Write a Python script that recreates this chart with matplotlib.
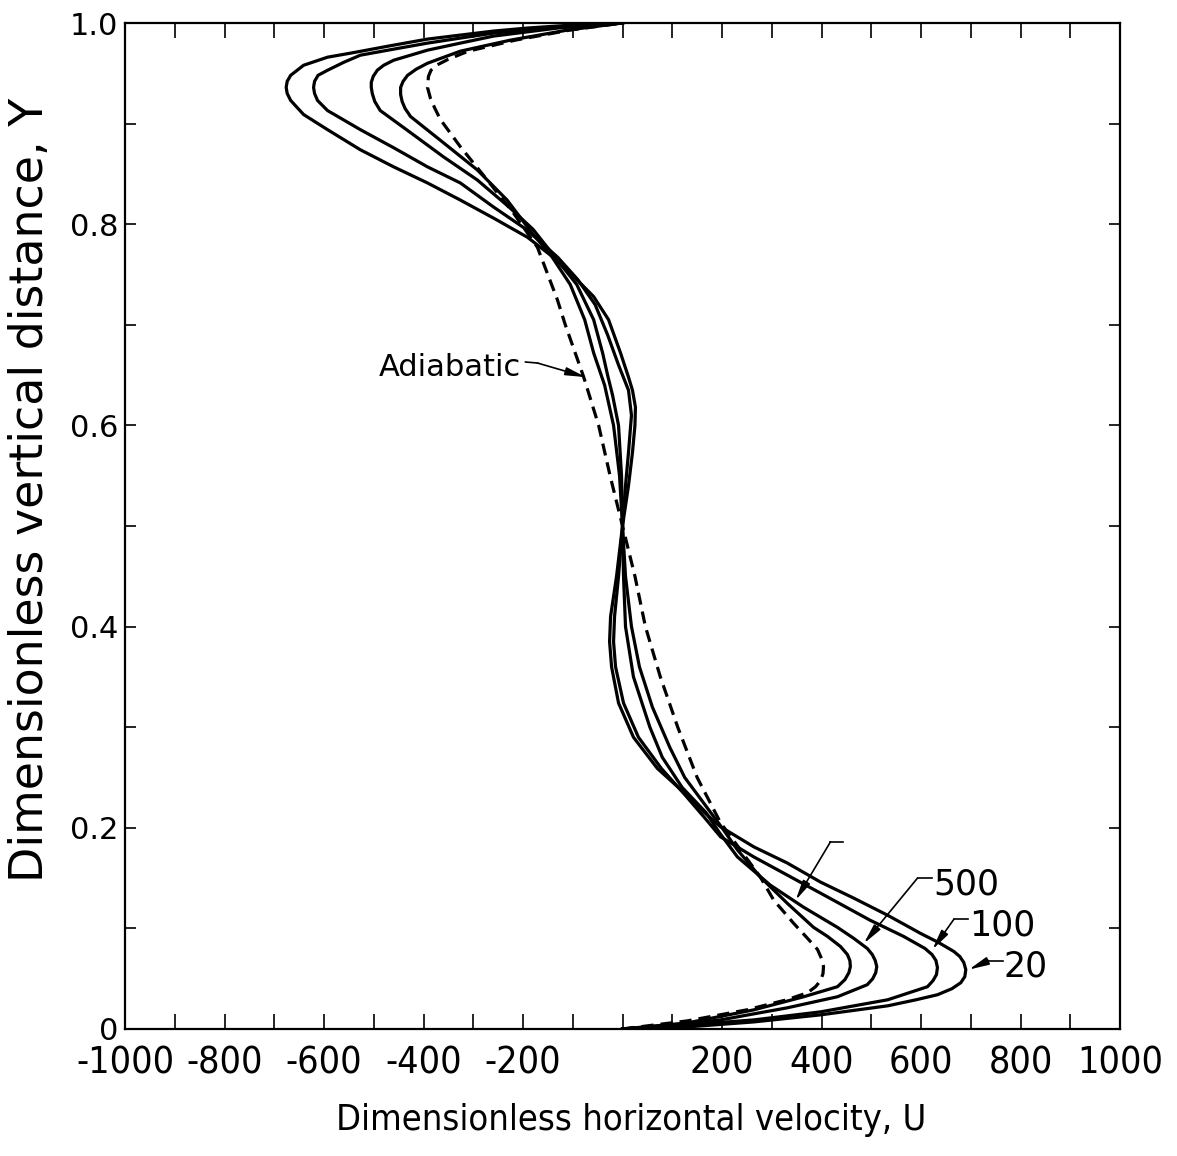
import numpy as np
import matplotlib.pyplot as plt

# Velocity profiles, Y (height) and U (horizontal velocity)
# curve labelled 20
y_20 = [0.0, 0.002, 0.007, 0.014, 0.023, 0.029, 0.034, 0.040, 0.046, 0.052, 0.059,
        0.066, 0.072, 0.077, 0.086, 0.095, 0.113, 0.130, 0.146, 0.165, 0.181, 0.201,
        0.215, 0.233, 0.259, 0.29, 0.324, 0.36, 0.385, 0.41, 0.45, 0.5, 0.54, 0.573,
        0.60, 0.618, 0.635, 0.648, 0.672, 0.705, 0.728, 0.741, 0.767, 0.787, 0.806,
        0.824, 0.841, 0.857, 0.874, 0.894, 0.909, 0.923, 0.930, 0.936, 0.942, 0.948,
        0.958, 0.966, 0.970, 0.978, 0.984, 0.988, 0.992, 0.995, 0.998, 1.0]
u_20 = [0, 130, 264, 398, 533, 590, 633, 662, 680, 688, 690,
        686, 678, 666, 635, 599, 533, 465, 398, 331, 264, 197,
        165, 128, 70, 22, -8, -22, -26, -24, -12, 0, 12, 20,
        25, 26, 20, 12, -4, -28, -58, -84, -139, -191, -259,
        -326, -392, -460, -527, -593, -641, -667, -674, -676, -674, -667,
        -641, -593, -547, -460, -392, -326, -259, -191, -100, 0]

# curve labelled 100
y_100 = [0.0, 0.004, 0.009, 0.017, 0.029, 0.042, 0.048, 0.054, 0.061, 0.068, 0.074,
         0.080, 0.092, 0.108, 0.135, 0.153, 0.171, 0.191, 0.21, 0.233, 0.259, 0.29,
         0.324, 0.36, 0.385, 0.41, 0.45, 0.5, 0.54, 0.573, 0.61, 0.635, 0.66, 0.69,
         0.72, 0.745, 0.767, 0.794, 0.817, 0.841, 0.857, 0.876, 0.894, 0.913, 0.923,
         0.930, 0.936, 0.942, 0.948, 0.953, 0.961, 0.968, 0.974, 0.980, 0.985, 0.990,
         0.996, 1.0]
u_100 = [0, 130, 264, 398, 533, 613, 624, 631, 633, 630, 622,
         608, 565, 498, 398, 331, 264, 197, 165, 125, 78, 32,
         2, -14, -18, -16, -8, 0, 6, 12, 18, 12, -8, -30,
         -55, -90, -130, -191, -259, -326, -392, -460, -527, -593, -613,
         -619, -621, -619, -612, -593, -560, -527, -460, -392, -326, -259,
         -130, 0]

# curve labelled 500
y_500 = [0.0, 0.004, 0.009, 0.021, 0.032, 0.044, 0.050, 0.056, 0.062, 0.068, 0.074,
         0.080, 0.090, 0.101, 0.121, 0.143, 0.171, 0.195, 0.215, 0.24, 0.27, 0.30,
         0.35, 0.40, 0.45, 0.5, 0.55, 0.60, 0.63, 0.65, 0.672, 0.705, 0.74, 0.77,
         0.795, 0.817, 0.844, 0.867, 0.891, 0.913, 0.922, 0.930, 0.936, 0.941, 0.947,
         0.953, 0.958, 0.963, 0.973, 0.980, 0.987, 0.995, 1.0]
u_500 = [0, 100, 197, 331, 432, 492, 503, 509, 511, 508, 502,
         492, 465, 432, 364, 297, 231, 195, 168, 120, 80, 55,
         22, 6, 2, 0, -2, -8, -20, -30, -40, -58, -92, -140,
         -180, -228, -292, -360, -426, -487, -498, -503, -505, -505, -501,
         -493, -480, -460, -392, -326, -259, -130, 0]

# unlabelled curve
y_d = [0.0, 0.006, 0.019, 0.032, 0.042, 0.049, 0.056, 0.062, 0.068, 0.074, 0.082,
       0.092, 0.101, 0.125, 0.151, 0.178, 0.20, 0.22, 0.25, 0.28, 0.32, 0.36,
       0.40, 0.45, 0.5, 0.55, 0.60, 0.64, 0.672, 0.705, 0.74, 0.77, 0.79, 0.824,
       0.854, 0.881, 0.907, 0.915, 0.922, 0.929, 0.936, 0.942, 0.948, 0.954, 0.960,
       0.972, 0.983, 0.993, 1.0]
u_d = [0, 130, 264, 364, 432, 447, 455, 458, 457, 452, 438,
       412, 384, 331, 277, 231, 200, 170, 125, 95, 60, 34,
       18, 6, 0, -6, -18, -36, -58, -76, -105, -145, -180, -232,
       -292, -360, -426, -437, -443, -446, -446, -441, -432, -415, -392,
       -326, -225, -110, 0]

# adiabatic (dashed)
y_adiab = [0.0, 0.008, 0.019, 0.029, 0.036, 0.042, 0.048, 0.055, 0.062, 0.070,
           0.079, 0.090, 0.105, 0.128, 0.151, 0.178, 0.205, 0.25, 0.30, 0.35,
           0.40, 0.45, 0.5, 0.55, 0.60, 0.648, 0.70, 0.725, 0.777, 0.811, 0.844,
           0.877, 0.904, 0.915, 0.925, 0.936, 0.947, 0.953, 0.958, 0.964, 0.972,
           0.983, 0.993, 1.0]
u_adiab = [0, 130, 250, 330, 372, 388, 398, 403, 404, 400,
           392, 372, 344, 304, 277, 237, 197, 150, 111, 76,
           46, 25, 0, -25, -48, -78, -115, -131, -171, -219, -272,
           -326, -366, -377, -386, -392, -390, -385, -374, -350, -310,
           -215, -105, 0]

x_ticks = np.arange(-1000, 1001, 100)
x_labels = ['-1000', '', '-800', '', '-600', '', '-400', '', '-200', '', '',
            '', '200', '', '400', '', '600', '', '800', '', '1000']
y_ticks = np.arange(0, 1.01, 0.1)
y_labels = ['0', '', '0.2', '', '0.4', '', '0.6', '', '0.8', '', '1.0']

fig = plt.figure(figsize=(11.77, 11.56), dpi=100)
ax = fig.add_axes([0.1062, 0.1099, 0.8454, 0.8702])

for u, y in [(u_20, y_20), (u_100, y_100), (u_500, y_500), (u_d, y_d)]:
    ax.plot(u, y, color='black', lw=2.3, solid_joinstyle='round')
ax.plot(u_adiab, y_adiab, color='black', lw=2.3, ls=(0, (3.8, 2.2)))

ax.set_xlim(-1000, 1000)
ax.set_ylim(0, 1)
ax.set_xticks(x_ticks)
ax.set_xticklabels(x_labels, family='DejaVu Sans', fontsize=27, fontstretch='condensed')
ax.set_yticks(y_ticks)
ax.set_yticklabels(y_labels, family='DejaVu Sans', fontsize=22)
ax.tick_params(axis='x', direction='in', top=True, length=11, width=1.2, pad=12)
ax.tick_params(axis='y', direction='in', right=True, length=8, width=1.2, pad=5)
for s in ax.spines.values():
    s.set_linewidth(1.6)

fig.text(0.026, 0.576, 'Dimensionless vertical distance, Y', rotation=90,
         ha='center', va='center', fontsize=33, family='DejaVu Sans')
fig.text(0.536, 0.031, 'Dimensionless horizontal velocity, U',
         ha='center', va='center', fontsize=26, family='DejaVu Sans',
         fontstretch='condensed')

arrow = dict(arrowstyle='-|>,head_length=0.6,head_width=0.12', color='black',
             lw=1.2, mutation_scale=20, shrinkA=0, shrinkB=0)

# Adiabatic label
ax.text(-490, 0.658, 'Adiabatic', ha='left', va='center', fontsize=22)
ax.plot([-195, -171], [0.663, 0.662], color='black', lw=1.2)
ax.annotate('', xy=(-74, 0.648), xytext=(-171, 0.662), arrowprops=arrow)

# unlabelled leader
ax.plot([418, 444], [0.186, 0.186], color='black', lw=1.2)
ax.annotate('', xy=(348, 0.128), xytext=(418, 0.186), arrowprops=arrow)

# numbered labels
for txt, tx, ty, hx0, hx1, tip in [('500', 625, 0.144, 593, 623, (485, 0.085)),
                                   ('100', 696, 0.103, 666, 694, (623, 0.079)),
                                   ('20', 766, 0.062, 736, 764, (696, 0.059))]:
    hy = ty + 0.006
    ax.plot([hx0, hx1], [hy, hy], color='black', lw=1.2)
    ax.annotate('', xy=tip, xytext=(hx0, hy), arrowprops=arrow)
    ax.text(tx, ty, txt, ha='left', va='center', fontsize=25)

fig.savefig('out.png', dpi=100)
